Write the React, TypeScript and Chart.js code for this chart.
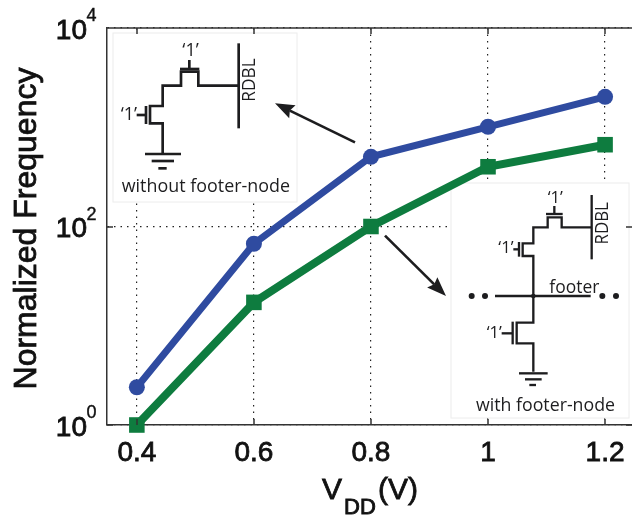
import React, { useEffect, useRef } from "react";
import { Chart, registerables } from "chart.js";

Chart.register(...registerables);

const voltages = [0.4, 0.6, 0.8, 1, 1.2];
const withoutFooter = [2.4, 67, 504, 1011, 2026];
const withFooter = [1, 17.2, 100, 400, 667];
const yTickValues = [1, 100, 10000];
const yTickExponents = ["0", "2", "4"];
const yTickBase = "10";

const SANS = '"Liberation Sans", Arial, sans-serif';
const INK = '"Open Sans", "Noto Sans", sans-serif';

type Pt = [number, number];

function poly(ctx: CanvasRenderingContext2D, pts: Pt[], w: number) {
  ctx.lineWidth = w;
  ctx.lineJoin = "miter";
  ctx.beginPath();
  pts.forEach((p, i) => (i ? ctx.lineTo(p[0], p[1]) : ctx.moveTo(p[0], p[1])));
  ctx.stroke();
}

function arrow(ctx: CanvasRenderingContext2D, a: Pt, b: Pt) {
  const ang = Math.atan2(b[1] - a[1], b[0] - a[0]);
  const len = 62;
  const base: Pt = [b[0] - Math.cos(ang) * len * 0.8, b[1] - Math.sin(ang) * len * 0.8];
  poly(ctx, [a, base], 8);
  ctx.beginPath();
  ctx.moveTo(b[0], b[1]);
  ctx.lineTo(b[0] - Math.cos(ang - 0.36) * len, b[1] - Math.sin(ang - 0.36) * len);
  ctx.lineTo(base[0], base[1]);
  ctx.lineTo(b[0] - Math.cos(ang + 0.36) * len, b[1] - Math.sin(ang + 0.36) * len);
  ctx.closePath();
  ctx.fill();
}

function label(ctx: CanvasRenderingContext2D, s: string, x0: number, x1: number, base: number, size: number) {
  ctx.font = `${size}px ${INK}`;
  ctx.textAlign = "left";
  ctx.textBaseline = "alphabetic";
  ctx.fillText(s, x0, base, x1 - x0);
}

function inset(
  ctx: CanvasRenderingContext2D,
  ox: number,
  oy: number,
  box: [number, number, number, number],
  draw: () => void
) {
  ctx.save();
  ctx.fillStyle = "#fff";
  ctx.strokeStyle = "#ececec";
  ctx.lineWidth = 1;
  ctx.fillRect(box[0], box[1], box[2], box[3]);
  ctx.strokeRect(box[0], box[1], box[2], box[3]);
  ctx.translate(ox, oy);
  ctx.scale(1 / 3, 1 / 3);
  ctx.strokeStyle = "#1d1d1f";
  ctx.fillStyle = "#1d1d1f";
  draw();
  ctx.restore();
}

function rdbl(ctx: CanvasRenderingContext2D, cx: number, cy: number, len: number) {
  ctx.save();
  ctx.translate(cx, cy);
  ctx.rotate(-Math.PI / 2);
  ctx.font = `52px ${INK}`;
  ctx.textAlign = "center";
  ctx.textBaseline = "middle";
  ctx.fillText("RDBL", 0, 0, len);
  ctx.restore();
}

function dot(ctx: CanvasRenderingContext2D, x: number, y: number, r: number) {
  ctx.beginPath();
  ctx.arc(x, y, r, 0, Math.PI * 2);
  ctx.fill();
}

const decorations = {
  id: "decorations",
  beforeDatasetsDraw(chart: any) {
    const { ctx } = chart;

    // left inset: circuit without footer node
    inset(ctx, 100, 20, [113, 33, 184, 169], () => {
      poly(ctx, [[415, 197], [295, 197], [295, 155], [243, 155], [243, 197], [188, 197], [188, 258], [150, 258], [150, 310], [188, 310], [188, 400]], 8);
      poly(ctx, [[268, 120], [268, 147]], 8);
      poly(ctx, [[240, 147], [298, 147]], 8);
      poly(ctx, [[110, 285], [138, 285]], 8);
      poly(ctx, [[138, 258], [138, 312]], 8);
      poly(ctx, [[135, 402], [243, 402]], 8);
      poly(ctx, [[155, 423], [222, 423]], 8);
      poly(ctx, [[175, 445], [200, 445]], 8);
      poly(ctx, [[416, 70], [416, 325]], 8);
      rdbl(ctx, 450, 180, 130);
      label(ctx, "\u20181\u2019", 247, 298, 107, 54);
      label(ctx, "\u20181\u2019", 62, 118, 300, 54);
      label(ctx, "without footer-node", 65, 570, 516, 54);
      arrow(ctx, [765, 367], [525, 250]);
    });

    // right inset: circuit with footer node
    inset(ctx, 370, 170, [451, 183, 178, 235], () => {
      poly(ctx, [[665, 172], [575, 172], [575, 142], [533, 142], [533, 172], [490, 172], [490, 220], [458, 220], [458, 258], [490, 258], [490, 458], [440, 458], [440, 520], [490, 520], [490, 605]], 7);
      poly(ctx, [[553, 108], [553, 132]], 7);
      poly(ctx, [[528, 132], [578, 132]], 7);
      poly(ctx, [[430, 238], [447, 238]], 7);
      poly(ctx, [[447, 216], [447, 260]], 7);
      poly(ctx, [[395, 490], [428, 490]], 7);
      poly(ctx, [[428, 455], [428, 523]], 7);
      poly(ctx, [[447, 610], [533, 610]], 7);
      poly(ctx, [[465, 628], [515, 628]], 7);
      poly(ctx, [[478, 645], [498, 645]], 7);
      poly(ctx, [[665, 75], [665, 268]], 7);
      poly(ctx, [[375, 378], [662, 378]], 7);
      dot(ctx, 490, 378, 7);
      [305, 345, 697, 738].forEach((x) => dot(ctx, x, 378, 9));
      rdbl(ctx, 700, 160, 127);
      label(ctx, "footer", 538, 688, 368, 54);
      label(ctx, "\u20181\u2019", 533, 583, 100, 50);
      label(ctx, "\u20181\u2019", 385, 435, 248, 50);
      label(ctx, "\u20181\u2019", 350, 400, 505, 50);
      label(ctx, "with footer-node", 318, 735, 722, 54);
      arrow(ctx, [45, 197], [228, 378]);
    });
  },
  afterDatasetsDraw(chart: any) {
    const { ctx, chartArea: a, scales } = chart;
    const xs = scales.x;
    const ys = scales.y;
    ctx.save();

    // frame and inward ticks
    ctx.strokeStyle = "#333";
    ctx.lineWidth = 1.5;
    ctx.beginPath();
    ctx.moveTo(a.left, a.top);
    ctx.lineTo(a.right, a.top);
    voltages.forEach((v) => {
      const px = Math.round(xs.getPixelForValue(v));
      ctx.moveTo(px, a.bottom);
      ctx.lineTo(px, a.bottom - 6);
      ctx.moveTo(px, a.top);
      ctx.lineTo(px, a.top + 6);
    });
    yTickValues.forEach((v) => {
      const py = Math.round(ys.getPixelForValue(v));
      ctx.moveTo(a.left, py);
      ctx.lineTo(a.left + 6, py);
      ctx.moveTo(a.right, py);
      ctx.lineTo(a.right - 6, py);
    });
    ctx.stroke();

    // exponents of the y tick labels
    ctx.fillStyle = "#111";
    ctx.strokeStyle = "#111";
    ctx.lineWidth = 0.4;
    ctx.font = `18px ${SANS}`;
    ctx.textAlign = "left";
    ctx.textBaseline = "alphabetic";
    yTickValues.forEach((v, i) => {
      const py = ys.getPixelForValue(v);
      ctx.fillText(yTickExponents[i], a.left - 20.5, py - 7);
      ctx.strokeText(yTickExponents[i], a.left - 20.5, py - 7);
    });

    // x axis title with subscript
    const title: [string, number, number, number][] = [
      ["V", 322, 499, 30],
      ["DD", 344, 514, 22],
      ["(V)", 378, 499, 30],
    ];
    title.forEach(([s, x, y, size]) => {
      ctx.font = `${size}px ${SANS}`;
      ctx.lineWidth = size > 25 ? 0.8 : 0.9;
      ctx.fillText(s, x, y);
      ctx.strokeText(s, x, y);
    });

    // y axis title
    ctx.save();
    ctx.translate(36, 228.5);
    ctx.rotate(-Math.PI / 2);
    ctx.textAlign = "center";
    ctx.font = `32px ${SANS}`;
    ctx.lineWidth = 0.8;
    ctx.fillText("Normalized Frequency", 0, 0);
    ctx.strokeText("Normalized Frequency", 0, 0);
    ctx.restore();
    ctx.restore();
  },
};

export default function App() {
  const ref = useRef<HTMLCanvasElement>(null);
  useEffect(() => {
    document.body.style.margin = "0";
    const chart = new Chart(ref.current!, {
      type: "line",
      plugins: [decorations],
      data: {
        labels: voltages,
        datasets: [
          {
            label: "without footer-node",
            data: voltages.map((v, i) => ({ x: v, y: withoutFooter[i] })),
            borderColor: "#2f4ba0",
            backgroundColor: "#2f4ba0",
            borderWidth: 7,
            pointBorderWidth: 0,
            pointStyle: "circle",
            pointRadius: 8,
            clip: false,
            tension: 0,
          },
          {
            label: "with footer-node",
            data: voltages.map((v, i) => ({ x: v, y: withFooter[i] })),
            borderColor: "#0e7c3f",
            backgroundColor: "#0e7c3f",
            borderWidth: 8,
            pointBorderWidth: 0,
            pointStyle: "rect",
            pointRadius: 11,
            clip: false,
            tension: 0,
          },
        ],
      },
      options: {
        responsive: false,
        animation: false,
        layout: { autoPadding: false, padding: { top: 28, right: 0, left: 0, bottom: 0 } },
        plugins: { legend: { display: false }, tooltip: { enabled: false } },
        scales: {
          x: {
            type: "linear",
            min: 0.349,
            max: 1.246,
            afterBuildTicks: (s: any) => {
              s.ticks = voltages.map((value) => ({ value }));
            },
            afterFit: (s: any) => {
              s.height = 91;
              s.paddingLeft = 0;
              s.paddingRight = 0;
            },
            grid: { color: "#222", lineWidth: 1.2, drawTicks: false },
            border: { color: "#333", width: 1.5, dash: [1.5, 5] },
            ticks: {
              color: "#111",
              padding: 11,
              autoSkip: false,
              maxRotation: 0,
              font: { family: SANS, size: 28 },
              textStrokeColor: "#111",
              textStrokeWidth: 0.8,
              callback: (v: any) => String(v),
            },
          },
          y: {
            type: "logarithmic",
            min: 1,
            max: 10000,
            afterBuildTicks: (s: any) => {
              s.ticks = yTickValues.map((value) => ({ value, major: true }));
            },
            afterFit: (s: any) => {
              s.width = 107;
              s.paddingTop = 0;
              s.paddingBottom = 0;
            },
            grid: { color: "#222", lineWidth: 1.2, drawTicks: false },
            border: { color: "#333", width: 1.5, dash: [1.5, 5] },
            ticks: {
              color: "#111",
              padding: 20,
              labelOffset: 3,
              autoSkip: false,
              font: { family: SANS, size: 28 },
              textStrokeColor: "#111",
              textStrokeWidth: 0.8,
              callback: () => yTickBase,
            },
          },
        },
      },
    } as any);
    return () => chart.destroy();
  }, []);
  return <canvas ref={ref} width={632} height={516} style={{ display: "block" }} />;
}
